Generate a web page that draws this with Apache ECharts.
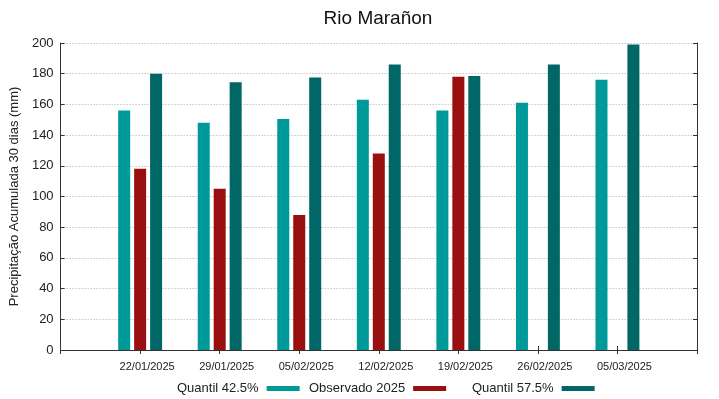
<!DOCTYPE html>
<html>
<head>
    <meta charset="utf-8">
    <title>Rio Marañon</title>
    <script src="https://cdn.jsdelivr.net/npm/echarts@6/dist/echarts.min.js"></script>
    <style>
        html, body { margin: 0; padding: 0; background: #fff; }
        #chart { width: 719px; height: 399px; }
    </style>
</head>
<body>
<div id="chart"></div>
<script>
    // datas das semanas
    var dates = ['22/01/2025', '29/01/2025', '05/02/2025', '12/02/2025', '19/02/2025', '26/02/2025', '05/03/2025'];
    var quantil425 = [156, 148, 150.5, 163, 156, 161, 176];
    var observado2025 = [118, 105, 88, 128, 178, null, null];
    var quantil575 = [180, 174.5, 177.5, 186, 178.5, 186, 199];
    var yTicks = [0, 20, 40, 60, 80, 100, 120, 140, 160, 180, 200];

    // uma posicao vazia em cada ponta, como no gnuplot
    function pad(arr) {
        return [null].concat(arr).concat([null]);
    }
    var cats = [''].concat(dates).concat(['']);

    var myChart = echarts.init(document.getElementById('chart'));
    var font = 'Liberation Sans, Arial, sans-serif';
    var axisColor = '#333';

    function legendItem(name, left) {
        return {
            data: [name],
            left: left,
            top: 382,
            padding: 0,
            align: 'right',
            itemWidth: 33,
            itemHeight: 5,
            itemGap: 0,
            icon: 'rect',
            selectedMode: false,
            textStyle: { fontFamily: font, fontSize: 13, color: '#222', padding: [0, 3, 0, 0] }
        };
    }

    myChart.setOption({
        animation: false,
        title: {
            text: 'Rio Marañon',
            left: 373,
            textAlign: 'center',
            top: 4,
            textStyle: { fontFamily: font, fontSize: 19, fontWeight: 'normal', color: '#111' }
        },
        legend: [
            legendItem('Quantil 42.5%', 177),
            legendItem('Observado 2025', 309),
            legendItem('Quantil 57.5%', 472)
        ],
        grid: { left: 58, right: 22, top: 43, bottom: 49 },
        xAxis: [{
            type: 'category',
            data: cats,
            boundaryGap: false,
            axisLine: { lineStyle: { color: axisColor } },
            axisTick: { inside: true, length: 4, lineStyle: { color: axisColor } },
            axisLabel: { fontFamily: font, fontSize: 11, color: '#222', margin: 11, padding: [0, 0, 0, 14] },
            splitLine: { show: false }
        }, {
            type: 'category',
            data: cats,
            boundaryGap: false,
            position: 'top',
            axisLine: { lineStyle: { color: axisColor } },
            axisTick: { inside: true, length: 4, lineStyle: { color: axisColor } },
            axisLabel: { show: false },
            splitLine: { show: false }
        }],
        yAxis: [{
            type: 'value',
            min: yTicks[0],
            max: yTicks[yTicks.length - 1],
            interval: 20,
            name: 'Precipitação Acumulada 30 dias (mm)',
            nameLocation: 'middle',
            nameGap: 32,
            nameTextStyle: { fontFamily: font, fontSize: 13, color: '#222' },
            axisLine: { show: true, lineStyle: { color: axisColor } },
            axisTick: { show: true, inside: true, length: 4, lineStyle: { color: axisColor } },
            axisLabel: { fontFamily: font, fontSize: 13, color: '#222', margin: 7 },
            splitLine: { show: true, lineStyle: { color: '#aaa', type: [1, 2] } }
        }, {
            type: 'value',
            min: yTicks[0],
            max: yTicks[yTicks.length - 1],
            interval: 20,
            position: 'right',
            axisLine: { show: true, lineStyle: { color: axisColor } },
            axisTick: { show: true, inside: true, length: 4, lineStyle: { color: axisColor } },
            axisLabel: { show: false },
            splitLine: { show: false }
        }],
        series: [{
            name: 'Quantil 42.5%',
            type: 'bar',
            data: pad(quantil425),
            barWidth: 12,
            barGap: '33%',
            itemStyle: { color: '#009999' }
        }, {
            name: 'Observado 2025',
            type: 'bar',
            data: pad(observado2025),
            barWidth: 12,
            barGap: '33%',
            itemStyle: { color: '#990f0f' }
        }, {
            name: 'Quantil 57.5%',
            type: 'bar',
            data: pad(quantil575),
            barWidth: 12,
            barGap: '33%',
            itemStyle: { color: '#006666' }
        }]
    });
</script>
</body>
</html>
